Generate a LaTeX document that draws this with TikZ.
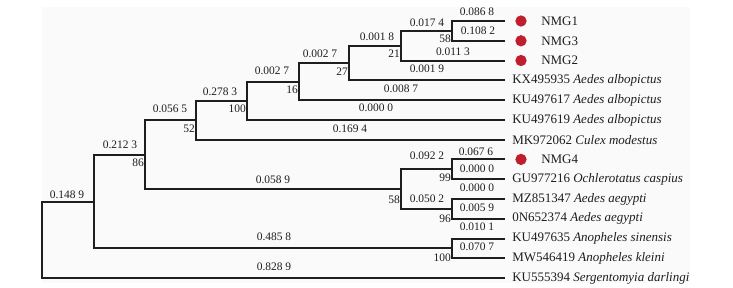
\documentclass[tikz,border=0pt]{standalone}
\usepackage{fontspec}
\setmainfont{Liberation Serif}
\definecolor{treeline}{RGB}{30,30,30}
\definecolor{dotred}{RGB}{190,30,45}
\definecolor{bgpanel}{RGB}{250,250,250}
\begin{document}
\begin{tikzpicture}[x=0.75pt,y=-0.75pt,
  tree/.style={draw=treeline,line width=1.5pt,line join=miter},
  blen/.style={inner sep=0pt,font=\fontsize{8.6}{9}\selectfont,text=treeline},
  boot/.style={inner sep=0pt,anchor=east,font=\fontsize{8.6}{9}\selectfont,text=treeline},
  leaf/.style={inner sep=0pt,anchor=west,font=\fontsize{9.75}{10}\selectfont,text=treeline},
  reddot/.style={circle,fill=dotred,inner sep=0pt,minimum size=8.5pt}]
\useasboundingbox (0,0) rectangle (733,287);
\fill[bgpanel] (42,7) rectangle (690,283);
% leaves
\coordinate (L1) at (505,21);
\coordinate (L2) at (505,40.8);
\coordinate (L3) at (505,60.5);
\coordinate (L4) at (505,80.3);
\coordinate (L5) at (505,100.1);
\coordinate (L6) at (505,119.9);
\coordinate (L7) at (505,139.6);
\coordinate (L8) at (505,159.4);
\coordinate (L9) at (505,179.2);
\coordinate (L10) at (505,198.9);
\coordinate (L11) at (505,218.7);
\coordinate (L12) at (505,238.5);
\coordinate (L13) at (505,258.2);
\coordinate (L14) at (505,278);
% internal nodes
\coordinate (n1) at (452,30.9);
\coordinate (n2) at (401,45.7);
\coordinate (n3) at (349,63);
\coordinate (n4) at (299,81.5);
\coordinate (n5) at (247,100.7);
\coordinate (n6) at (196,120.2);
\coordinate (n9) at (452,169.3);
\coordinate (n10) at (452,208.8);
\coordinate (n8) at (401,189);
\coordinate (n7) at (145,154.6);
\coordinate (n11) at (452,248.3);
\coordinate (n12) at (94,201.5);
\coordinate (root) at (42,239.7);
% edges
\draw[tree] (L1) -| (n1) |- (L2);
\draw[tree] (n1) -| (n2) |- (L3);
\draw[tree] (n2) -| (n3) |- (L4);
\draw[tree] (n3) -| (n4) |- (L5);
\draw[tree] (n4) -| (n5) |- (L6);
\draw[tree] (n5) -| (n6) |- (L7);
\draw[tree] (L8) -| (n9) |- (L9);
\draw[tree] (L10) -| (n10) |- (L11);
\draw[tree] (n9) -| (n8) |- (n10);
\draw[tree] (n6) -| (n7) |- (n8);
\draw[tree] (L12) -| (n11) |- (L13);
\draw[tree] (n7) -| (n12) |- (n11);
\draw[tree] (n12) -| (root) |- (L14);
% leaf labels
\node[reddot] (d1) at (521,21) {};
\node[leaf] (t1) at (541,21) {NMG1};
\node[reddot] (d2) at (521,40.8) {};
\node[leaf] (t2) at (541,40.8) {NMG3};
\node[reddot] (d3) at (521,60.5) {};
\node[leaf] (t3) at (541,60.5) {NMG2};
\node[leaf] (t4) at (512,80.3) {KX495935 \textit{Aedes albopictus}};
\node[leaf] (t5) at (512,100.1) {KU497617 \textit{Aedes albopictus}};
\node[leaf] (t6) at (512,119.9) {KU497619 \textit{Aedes albopictus}};
\node[leaf] (t7) at (512,139.6) {MK972062 \textit{Culex modestus}};
\node[reddot] (d8) at (521,159.4) {};
\node[leaf] (t8) at (541,159.4) {NMG4};
\node[leaf] (t9) at (512,179.2) {GU977216 \textit{Ochlerotatus caspius}};
\node[leaf] (t10) at (512,198.9) {MZ851347 \textit{Aedes aegypti}};
\node[leaf] (t11) at (512,218.7) {0N652374 \textit{Aedes aegypti}};
\node[leaf] (t12) at (512,238.5) {KU497635 \textit{Anopheles sinensis}};
\node[leaf] (t13) at (512,258.2) {MW546419 \textit{Anopheles kleini}};
\node[leaf] (t14) at (512,278) {KU555394 \textit{Sergentomyia darlingi}};
% branch lengths
\node[blen] (b1) at (477,12) {0.086 8};
\node[blen] (b2) at (478,31) {0.108 2};
\node[blen] (b3) at (427,23) {0.017 4};
\node[blen] (b4) at (377,37) {0.001 8};
\node[blen] (b5) at (453,52) {0.011 3};
\node[blen] (b6) at (427,69) {0.001 9};
\node[blen] (b7) at (401,89) {0.008 7};
\node[blen] (b8) at (376,108) {0.000 0};
\node[blen] (b9) at (350,129) {0.169 4};
\node[blen] (b10) at (320,54) {0.002 7};
\node[blen] (b11) at (272,71) {0.002 7};
\node[blen] (b12) at (220,92) {0.278 3};
\node[blen] (b13) at (170,109) {0.056 5};
\node[blen] (b14) at (120,145) {0.212 3};
\node[blen] (b15) at (273,180) {0.058 9};
\node[blen] (b16) at (67,195) {0.148 9};
\node[blen] (b17) at (274,237) {0.485 8};
\node[blen] (b18) at (274,267) {0.828 9};
\node[blen] (b19) at (427,156) {0.092 2};
\node[blen] (b20) at (476,152) {0.067 6};
\node[blen] (b21) at (477,169) {0.000 0};
\node[blen] (b22) at (477,188) {0.000 0};
\node[blen] (b23) at (427,199) {0.050 2};
\node[blen] (b24) at (477,208) {0.005 9};
\node[blen] (b25) at (477,227) {0.010 1};
\node[blen] (b26) at (477,247) {0.070 7};
% bootstrap values
\node[boot] (s1) at (451,39) {58};
\node[boot] (s2) at (400,54) {21};
\node[boot] (s3) at (348,72) {27};
\node[boot] (s4) at (298,90) {16};
\node[boot] (s5) at (246,109) {100};
\node[boot] (s6) at (195,129) {52};
\node[boot] (s7) at (144,163) {86};
\node[boot] (s8) at (451,178) {99};
\node[boot] (s9) at (400,200) {58};
\node[boot] (s10) at (451,219) {96};
\node[boot] (s11) at (451,258) {100};
\end{tikzpicture}
\end{document}
